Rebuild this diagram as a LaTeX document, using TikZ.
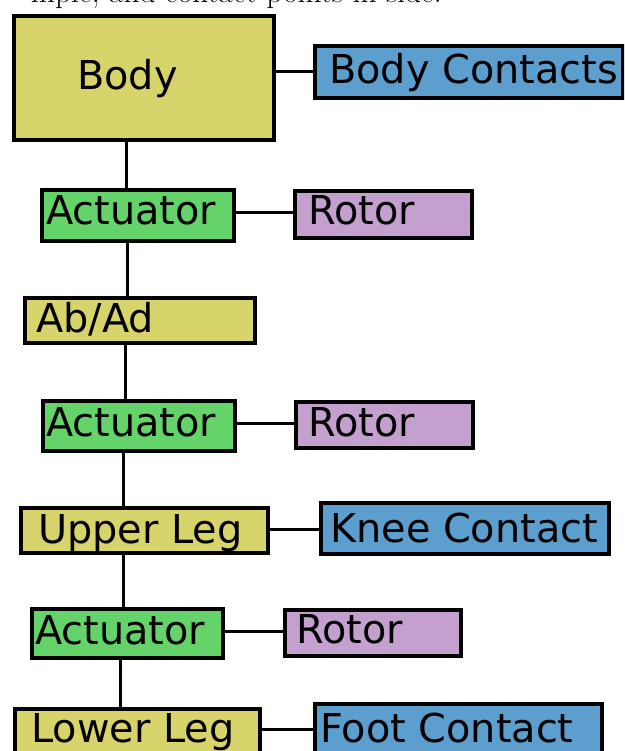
\documentclass[tikz,border=0pt]{standalone}
\usepackage{fontspec}
\newfontfamily\boxfont{DejaVu Sans}
\definecolor{bodyyellow}{RGB}{216,212,108}
\definecolor{actgreen}{RGB}{100,212,106}
\definecolor{contactblue}{RGB}{92,158,206}
\definecolor{rotorpurple}{RGB}{196,160,206}
\tikzset{
  part/.style={draw=black, line width=4pt, rectangle, inner sep=0pt, anchor=north west},
  lbl/.style={anchor=base west, inner sep=0pt, font=\boxfont\fontsize{39.8}{46}\selectfont},
  link/.style={draw=black, line width=3pt}
}
% \partbox{name}{left}{top}{right}{bottom}{fill}{text x}{baseline}{text}
\newcommand{\partbox}[9]{%
  \node[part, fill=#6, minimum width={(#4-#2)*1pt}, minimum height={(#5-#3)*1pt}] (#1) at (#2,#3) {};
  \node[lbl] (#1-t) at (#7,#8) {#9};
}
\begin{document}
\begin{tikzpicture}[x=1pt,y=-1pt]
\useasboundingbox (0,0) rectangle (624,751);
\clip (0,0) rectangle (624,751);

% running text above the figure
\node[anchor=base east, inner sep=0pt, font=\fontsize{31.4}{36}\selectfont] (caption) at (442,3) {mple, and contact points in side.};

% boxes of the leg chain
\partbox{body}{12}{14}{272}{138}{bodyyellow}{77}{90}{Body}
\partbox{bodyc}{313}{44}{621}{96}{contactblue}{329}{84}{Body Contacts}
\partbox{act1}{40}{188}{232}{239}{actgreen}{46}{225}{Actuator}
\partbox{rot1}{293}{189}{470}{236}{rotorpurple}{308}{224}{Rotor}
\partbox{abad}{23}{296}{253}{341}{bodyyellow}{36}{332}{Ab/Ad}
\partbox{act2}{41}{399}{233}{449}{actgreen}{46}{436}{Actuator}
\partbox{rot2}{294}{400}{471}{446}{rotorpurple}{308}{436}{Rotor}
\partbox{upleg}{19}{506}{266}{551}{bodyyellow}{38}{543}{Upper Leg}
\partbox{knee}{319}{501}{607}{552}{contactblue}{330}{542}{Knee Contact}
\partbox{act3}{30}{607}{221}{656}{actgreen}{35}{644}{Actuator}
\partbox{rot3}{283}{608}{459}{654}{rotorpurple}{296}{643}{Rotor}
\partbox{lowleg}{13}{707}{258}{775}{bodyyellow}{31}{742}{Lower Leg}
\partbox{foot}{313}{702}{600}{775}{contactblue}{320}{742}{Foot Contact}

% vertical chain
\draw[link] (body.south -| 126,0) -- (act1.north -| 126,0);
\draw[link] (act1.south -| 127,0) -- (abad.north -| 127,0);
\draw[link] (abad.south -| 125,0) -- (act2.north -| 125,0);
\draw[link] (act2.south -| 123,0) -- (upleg.north -| 123,0);
\draw[link] (upleg.south -| 123,0) -- (act3.north -| 123,0);
\draw[link] (act3.south -| 120,0) -- (lowleg.north -| 120,0);

% side attachments
\draw[link] (body.east |- 0,72) -- (bodyc.west |- 0,72);
\draw[link] (act1.east |- 0,213) -- (rot1.west |- 0,213);
\draw[link] (act2.east |- 0,423) -- (rot2.west |- 0,423);
\draw[link] (upleg.east |- 0,529) -- (knee.west |- 0,529);
\draw[link] (act3.east |- 0,631) -- (rot3.west |- 0,631);
\draw[link] (lowleg.east |- 0,729) -- (foot.west |- 0,729);
\end{tikzpicture}
\end{document}
